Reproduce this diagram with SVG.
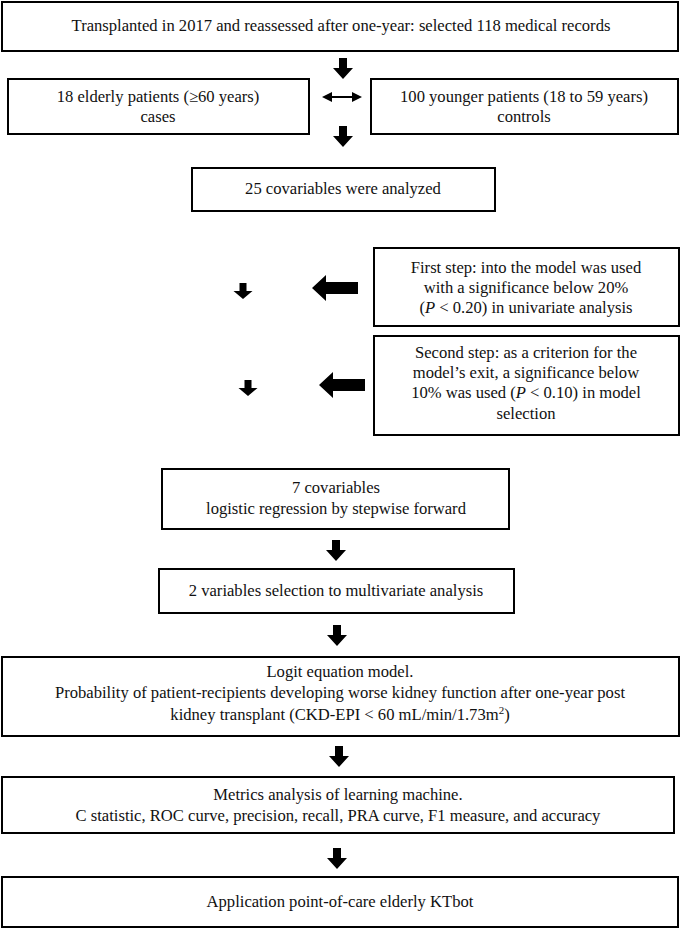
<svg xmlns="http://www.w3.org/2000/svg" xmlns:xlink="http://www.w3.org/1999/xlink" width="681" height="929" viewBox="0 0 681 929">
<style>
.box{fill:#fff;stroke:#000;stroke-width:2}
.t{font-family:"Liberation Serif","Times New Roman",serif;font-size:16.6px;fill:#111;text-anchor:middle}
.ar{fill:#000}
</style>
<defs>
<path id="down" d="M-4,0 H4 V10 H10 L0,21 L-10,10 H-4 Z"/>
<path id="sdown" d="M-3.5,0 H3.5 V8 H9.5 L0,16 L-9.5,8 H-3.5 Z"/>
<path id="left" d="M0,0 L14,-13 V-6 H46 V6 H14 V13 Z"/>
</defs>
<rect width="681" height="929" fill="#fff"/>
<g id="n1"><rect class="box" x="2" y="2" width="676" height="49"/><text class="t" x="341" y="31">Transplanted in 2017 and reassessed after one-year: selected 118 medical records</text></g>
<g id="n2"><rect class="box" x="8" y="79" width="301" height="55"/><text class="t" x="158" y="102">18 elderly patients (≥60 years)</text><text class="t" x="158" y="122">cases</text></g>
<g id="n3"><rect class="box" x="371" y="79" width="307" height="55"/><text class="t" x="524" y="102">100 younger patients (18 to 59 years)</text><text class="t" x="524" y="122">controls</text></g>
<g id="n4"><rect class="box" x="192" y="168" width="303" height="43"/><text class="t" x="343" y="194">25 covariables were analyzed</text></g>
<g id="n5"><rect class="box" x="374" y="248" width="305" height="78"/><text class="t" x="526" y="273">First step: into the model was used</text><text class="t" x="526" y="293">with a significance below 20%</text><text class="t" x="526" y="313">(<tspan font-style="italic">P</tspan> &lt; 0.20) in univariate analysis</text></g>
<g id="n6"><rect class="box" x="374" y="336" width="305" height="99"/><text class="t" x="526" y="358">Second step: as a criterion for the</text><text class="t" x="526" y="378">model’s exit, a significance below</text><text class="t" x="526" y="398">10% was used (<tspan font-style="italic">P</tspan> &lt; 0.10) in model</text><text class="t" x="526" y="419">selection</text></g>
<g id="n7"><rect class="box" x="162" y="469" width="347" height="60"/><text class="t" x="336" y="493">7 covariables</text><text class="t" x="336" y="514">logistic regression by stepwise forward</text></g>
<g id="n8"><rect class="box" x="159" y="569" width="355" height="44"/><text class="t" x="336" y="596">2 variables selection to multivariate analysis</text></g>
<g id="n9"><rect class="box" x="2" y="657" width="677" height="79"/><text class="t" x="340" y="677">Logit equation model.</text><text class="t" x="340" y="698">Probability of patient-recipients developing worse kidney function after one-year post</text><text class="t" x="340" y="720">kidney transplant (CKD-EPI &lt; 60 mL/min/1.73m<tspan font-size="11" dy="-6">2</tspan><tspan dy="6">)</tspan></text></g>
<g id="n10"><rect class="box" x="2" y="777" width="672" height="56"/><text class="t" x="338" y="800">Metrics analysis of learning machine.</text><text class="t" x="338" y="821">C statistic, ROC curve, precision, recall, PRA curve, F1 measure, and accuracy</text></g>
<g id="n11"><rect class="box" x="2" y="877" width="676" height="50"/><text class="t" x="340" y="907">Application point-of-care elderly KTbot</text></g>
<g id="connectors" class="ar">
<use xlink:href="#down" x="343" y="58"/>
<line x1="326" y1="97" x2="358" y2="97" stroke="#000" stroke-width="2"/>
<path d="M322,97 L332,92 V102 Z"/>
<path d="M362,97 L352,92 V102 Z"/>
<use xlink:href="#down" x="343" y="126"/>
<use xlink:href="#sdown" x="243" y="283"/>
<use xlink:href="#left" x="312" y="288"/>
<use xlink:href="#sdown" x="248" y="380"/>
<use xlink:href="#left" x="319" y="385"/>
<use xlink:href="#down" x="336" y="540"/>
<use xlink:href="#down" x="337" y="625"/>
<use xlink:href="#down" x="339" y="746"/>
<use xlink:href="#down" x="337" y="848"/>
</g>
</svg>
